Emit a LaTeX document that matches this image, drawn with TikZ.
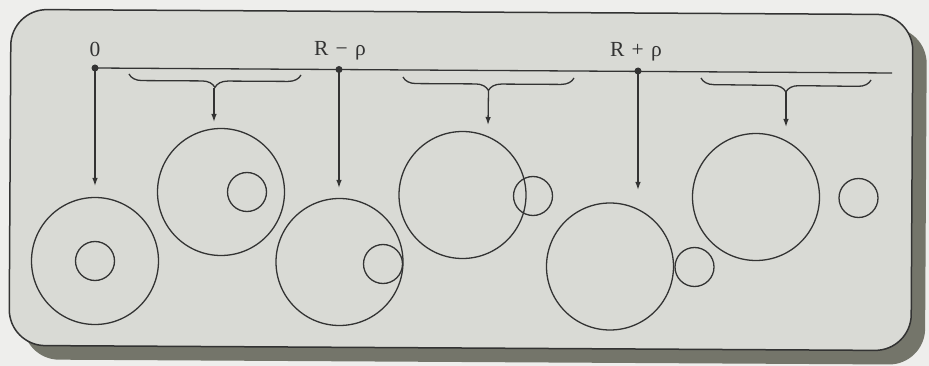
\documentclass[tikz,border=0pt]{standalone}
\usepackage{fontspec}
\setmainfont{Liberation Serif}
\usetikzlibrary{arrows.meta,decorations.pathreplacing}
\definecolor{bgcol}{HTML}{EEEEEC}
\definecolor{panelcol}{HTML}{D9DAD5}
\definecolor{shadowcol}{HTML}{74756A}
\definecolor{inkcol}{HTML}{333333}
\tikzset{
  ink/.style={draw=inkcol, line width=1.3pt},
  ring/.style={ink, circle, inner sep=0pt, outer sep=0pt, minimum size=#1},
  bigring/.style={ring=127pt},
  smallring/.style={ring=39pt},
  dotnode/.style={circle, fill=inkcol, inner sep=0pt, minimum size=7pt},
  lbl/.style={font=\fontsize{21.5}{26}\selectfont, text=inkcol, inner sep=0pt, anchor=base},
  arr/.style={ink, -{Latex[length=8pt,width=5.5pt]}},
  bracedeco/.style={ink, decorate, decoration={brace, amplitude=13pt, mirror}},
}
\begin{document}
\begin{tikzpicture}[x=1pt,y=-1pt]
\useasboundingbox (0,0) rectangle (929,366);
\fill[bgcol] (0,0) rectangle (929,366);
\begin{scope}[rotate around={-0.33:(461,180)}]
  \fill[shadowcol, rounded corners=36pt] (24,25) rectangle (926,362);
  \draw[ink, line width=1.5pt, fill=panelcol, rounded corners=36pt] (10,12) rectangle (912,348);
\end{scope}

% labels
\node[lbl] (l0) at (95,57) {0};
\node[lbl] (l1) at (340,56) {R\,\,−\,\,ρ};
\node[lbl] (l2) at (636,56.5) {R\,\,+\,\,ρ};

% axis and points
\node[dotnode] (p0) at (95,68) {};
\node[dotnode] (p1) at (339,69.5) {};
\node[dotnode] (p2) at (638,71) {};
\coordinate (axisend) at (892,73);
\draw[ink] (p0.center) -- (axisend);

% vertical arrows
\coordinate (v0) at (95,186);
\coordinate (v1) at (339,188);
\coordinate (v2) at (638,190);
\draw[arr] (p0.center) -- (v0);
\draw[arr] (p1.center) -- (v1);
\draw[arr] (p2.center) -- (v2);

% braces
\coordinate (b1a) at (129,74);
\coordinate (b1b) at (301,75);
\coordinate (b2a) at (403,77);
\coordinate (b2b) at (574,78);
\coordinate (b3a) at (701,78);
\coordinate (b3b) at (871,80);
\draw[bracedeco] (b1a) -- (b1b);
\draw[bracedeco] (b2a) -- (b2b);
\draw[bracedeco] (b3a) -- (b3b);
\coordinate (t1) at (214,88);
\coordinate (t2) at (488.5,90.5);
\coordinate (t3) at (786,92);
\coordinate (e1) at (214,122);
\coordinate (e2) at (488,125);
\coordinate (e3) at (786,127);
\draw[arr] (t1) -- (e1);
\draw[arr] (t2) -- (e2);
\draw[arr] (t3) -- (e3);

% circles
\node[bigring] (c1) at (95,261) {};
\node[smallring] (s1) at (95,261) {};
\node[bigring] (c2) at (221,192) {};
\node[smallring] (s2) at (247,192) {};
\node[bigring] (c3) at (339.5,262) {};
\node[smallring] (s3) at (383,264) {};
\node[bigring] (c4) at (462.5,195) {};
\node[smallring] (s4) at (533,196) {};
\node[bigring] (c5) at (610,266.5) {};
\node[smallring] (s5) at (694.5,267) {};
\node[bigring] (c6) at (756,197) {};
\node[smallring] (s6) at (858.5,198) {};
\end{tikzpicture}
\end{document}
